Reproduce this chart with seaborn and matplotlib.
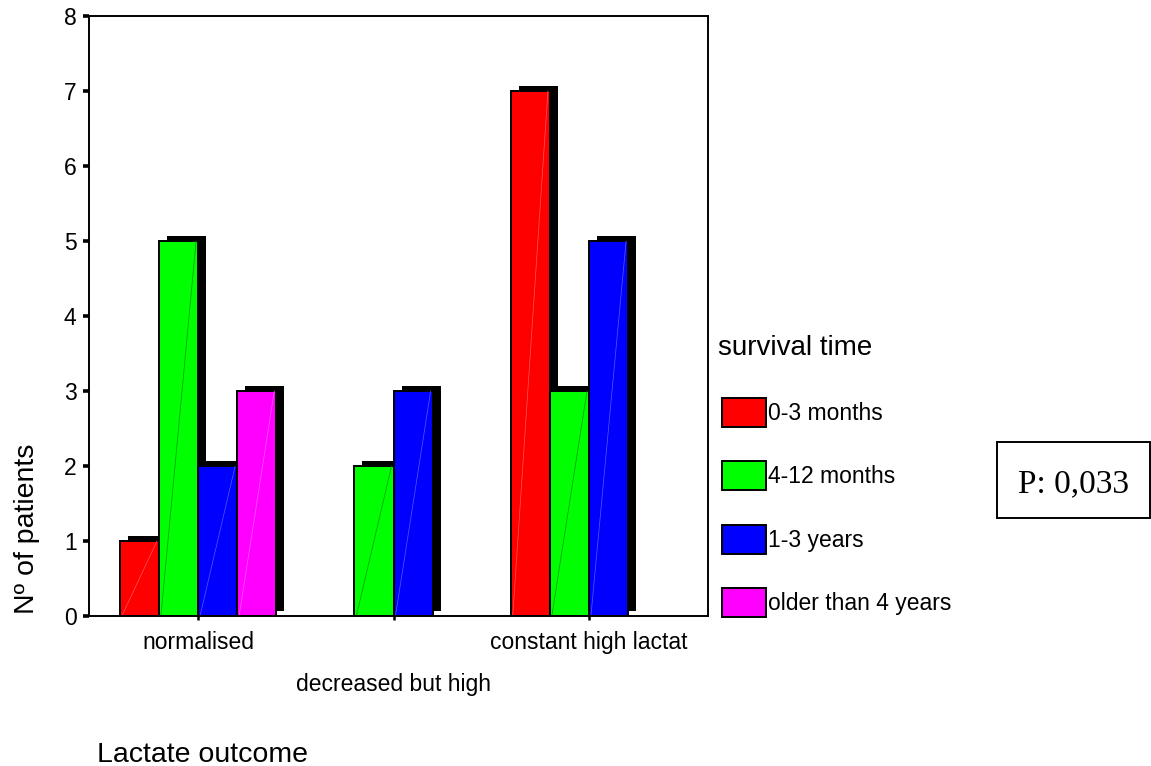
import matplotlib
matplotlib.use("Agg")
import matplotlib.pyplot as plt
import matplotlib.transforms as mtransforms
from matplotlib.patches import Rectangle, Patch
import numpy as np
import pandas as pd
import seaborn as sns

# Lactate outcome groups and survival-time categories
outcomes = ["normalised", "decreased but high", "constant high lactat"]
survival_groups = ["0-3 months", "4-12 months", "1-3 years", "older than 4 years"]
group_colors = ["#ff0000", "#00ff00", "#0000ff", "#ff00ff"]

# Number of patients per survival group within each outcome (0 = no bar)
normalised_counts = [1, 5, 2, 3]
decreased_counts = [0, 2, 3, 0]
constant_counts = [7, 3, 5, 0]

y_ticks = [0, 1, 2, 3, 4, 5, 6, 7, 8]
p_value_text = "P: 0,033"

rows = []
for outcome, counts in zip(outcomes, [normalised_counts, decreased_counts, constant_counts]):
    for group, n in zip(survival_groups, counts):
        if n > 0:
            rows.append({"outcome": outcome, "survival": group, "patients": n})
df = pd.DataFrame(rows)

sns.set_theme(style="white")
plt.rcParams["font.family"] = ["Liberation Sans", "DejaVu Sans"]
plt.rcParams["text.color"] = "black"
plt.rcParams["axes.labelcolor"] = "black"
plt.rcParams["xtick.color"] = "black"
plt.rcParams["ytick.color"] = "black"

W, H, DPI = 1151, 766, 100
fig = plt.figure(figsize=(W / DPI, H / DPI), dpi=DPI)
ax = fig.add_axes([89 / W, (H - 616) / H, (708 - 89) / W, (616 - 16) / H])

sns.barplot(
    data=df, x="outcome", y="patients", hue="survival",
    order=outcomes, hue_order=survival_groups, palette=group_colors,
    saturation=1, width=0.8, edgecolor="black", linewidth=1.4,
    errorbar=None, legend=False, ax=ax,
)

bars = [p for p in ax.patches if p.get_height() > 0]

# Drop shadow behind every bar, shifted right and up
shadow_shift = mtransforms.ScaledTranslation(8 / DPI, 5 / DPI, fig.dpi_scale_trans)


def stripe_color(fc):
    r, g, b = fc[:3]
    if g > 0.9 and r < 0.1 and b < 0.1:
        return (0.0, 0.6, 0.0)
    return tuple(0.65 * np.array([r, g, b]) + 0.35)


for bar in bars:
    x, y, w, h = bar.get_x(), bar.get_y(), bar.get_width(), bar.get_height()
    ax.add_patch(Rectangle((x, y), w, h, facecolor="black", edgecolor="none",
                           transform=ax.transData + shadow_shift,
                           zorder=bar.get_zorder() - 0.2))
    ax.plot([x + 0.01, x + w - 0.01], [y, y + h], color=stripe_color(bar.get_facecolor()),
            lw=0.5, zorder=bar.get_zorder() + 0.1)

ax.set_xlim(-0.558, 2.609)
ax.set_ylim(0, 8)
ax.set_yticks(y_ticks)
ax.set_yticklabels([str(t) for t in y_ticks])

for spine in ax.spines.values():
    spine.set_visible(True)
    spine.set_color("black")
    spine.set_linewidth(1.4)

ax.tick_params(axis="y", direction="out", length=4, width=2.6, pad=5,
               labelsize=16.5, color="black", labelcolor="black", left=True)
ax.tick_params(axis="x", direction="out", length=3, width=1.8, pad=8,
               labelsize=16.5, color="black", labelcolor="black", bottom=True)

# Stagger the middle category label onto a second row
ax.get_xticklabels()[1].set_y(-0.07)

ax.set_ylabel("Nº of patients", fontsize=20.5, va="center", color="black")
ax.yaxis.set_label_coords((27 - 89) / 619, (616 - 529) / 600)
ax.set_xlabel("Lactate outcome", fontsize=20.5, ha="left", va="baseline", color="black")
ax.xaxis.set_label_coords((97 - 89) / 619, (616 - 762) / 600)

# Legend
fig.text(718 / W, 1 - 355 / H, "survival time", fontsize=20, ha="left", va="baseline",
         color="black")
handles = [Patch(facecolor=c, edgecolor="black", linewidth=1.4) for c in group_colors]
leg = fig.legend(handles, survival_groups, loc="upper left",
                 bbox_to_anchor=(722 / W, 1 - 398 / H), frameon=False, fontsize=16.5,
                 handlelength=1.91, handleheight=1.57, handletextpad=0.1,
                 labelspacing=1.5, borderpad=0, borderaxespad=0)
for t in leg.get_texts():
    t.set_color("black")

# P-value box
fig.add_artist(Rectangle((997 / W, 1 - 518 / H), (1149.5 - 997) / W, 76 / H,
                         transform=fig.transFigure, fill=False, edgecolor="black",
                         linewidth=1.4))
fig.text(1073.5 / W, 1 - 492 / H, p_value_text, fontsize=24, color="black",
         family=["Liberation Serif", "DejaVu Serif"], ha="center", va="baseline")

fig.savefig("out.png", dpi=DPI)
